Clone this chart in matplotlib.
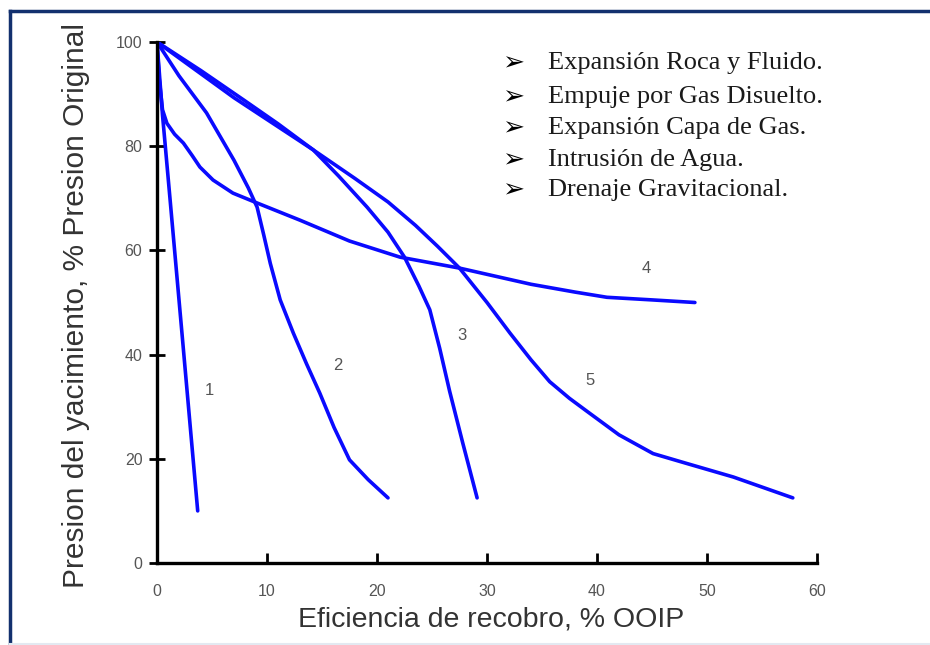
import matplotlib
matplotlib.use("Agg")
import matplotlib.pyplot as plt
from matplotlib.lines import Line2D

# data (x: % OOIP recovered, y: % of original pressure)
c1_x = [0, 0.5, 1.2, 2.4, 3.7]
c1_y = [100, 86, 69.5, 41, 10]

c2_x = [0, 2, 4.5, 7, 8.3, 9.1, 9.7, 10.3, 11.2, 12.4, 13.6, 14.8, 16.1, 17.5, 19.2, 21]
c2_y = [100, 93.5, 86.4, 77.3, 72, 68.3, 63, 57.5, 50.5, 44.1, 38.2, 32.6, 26, 19.8, 16, 12.5]

c3_x = [0, 4, 8, 11, 14.2, 16.5, 19.1, 21, 22.5, 23.8, 24.8, 25.7, 26.6, 27.8, 29.1]
c3_y = [100, 94.5, 88.7, 84.3, 79.3, 74.3, 68.3, 63.5, 58.7, 53.2, 48.6, 41.2, 33, 23, 12.5]

c4_x = [0, 0.2, 0.5, 0.9, 1.6, 2.4, 3.2, 3.9, 5.1, 6.9, 9.1, 13, 17.5, 22.1, 27.5,
        34, 38, 40.9, 45, 48.9]
c4_y = [100, 93, 87, 84.4, 82.3, 80.6, 78.2, 76, 73.5, 71, 69.1, 65.8, 61.8, 58.7, 56.6,
        53.5, 52, 51, 50.5, 50]

c5_x = [0, 7, 14.2, 18, 21, 23.5, 25.5, 27.5, 30, 32.1, 34, 35.7, 37.5, 39.1, 42, 45.1,
        48, 52.4, 57.8]
c5_y = [100, 89.3, 79.3, 73.8, 69.3, 64.8, 60.8, 56.6, 50, 44.1, 39, 34.8, 31.6, 29.1,
        24.6, 21, 19.2, 16.5, 12.5]

curve_ids = ["1", "2", "3", "4", "5"]
id_x = [4.8, 16.4, 27.7, 44.5, 39.4]
id_y = [33.2, 38, 43.6, 56.6, 35.1]

mechanisms = [
    "Expansión Roca y Fluido.",
    "Empuje por Gas Disuelto.",
    "Expansión Capa de Gas.",
    "Intrusión de Agua.",
    "Drenaje Gravitacional.",
]

xticks = [0, 10, 20, 30, 40, 50, 60]
yticks = [0, 20, 40, 60, 80, 100]

W, H = 930, 645
fig = plt.figure(figsize=(W / 100, H / 100), dpi=100)
ax = fig.add_axes([157 / W, (H - 563) / H, 660 / W, 521 / H])

blue = "#0a0aff"
for xs, ys in [(c1_x, c1_y), (c2_x, c2_y), (c3_x, c3_y), (c4_x, c4_y), (c5_x, c5_y)]:
    ax.plot(xs, ys, color=blue, lw=2.6, solid_capstyle="round", solid_joinstyle="round")

for t, x, y in zip(curve_ids, id_x, id_y):
    ax.text(x, y, t, fontsize=12, color="#555555", ha="center", va="center",
            family="Liberation Sans")

ax.set_xlim(0, 60)
ax.set_ylim(0, 100)
ax.set_xticks(xticks)
ax.set_yticks(yticks)
for s in ["top", "right"]:
    ax.spines[s].set_visible(False)
for s in ["left", "bottom"]:
    ax.spines[s].set_linewidth(2.4)
    ax.spines[s].set_color("black")
ax.tick_params(axis="x", direction="in", length=7, width=2, pad=15, labelsize=11.5,
               labelcolor="#555555")
ax.tick_params(axis="y", direction="inout", length=11, width=2, pad=5, labelsize=11.5,
               labelcolor="#555555")
for lab in ax.get_xticklabels() + ax.get_yticklabels():
    lab.set_family("Liberation Sans")

ax.set_xlabel("Eficiencia de recobro, % OOIP", fontsize=20.5, color="#333333",
              family="Liberation Sans")
ax.set_ylabel("Presion del yacimiento, % Presion Original", fontsize=21.5, color="#333333",
              family="Liberation Sans")
ax.xaxis.set_label_coords((491 - 157) / 660, (563 - 606) / 521)
ax.yaxis.set_label_coords((90 - 157) / 660, (563 - 305) / 521)

# list of drive mechanisms
rows_y = [63, 97, 128, 160, 190]
for name, y in zip(mechanisms, rows_y):
    fig.text(502 / W, 1 - y / H, "\u27a2", fontsize=19, color="black",
             va="center", ha="left", family="DejaVu Sans")
    fig.text(548 / W, 1 - y / H, name, fontsize=19, color="#1a1a1a",
             va="center", ha="left", family="Liberation Serif")

# slide frame
fig.add_artist(Line2D([10 / W, 10 / W], [0, 1 - 11 / H], color="#12306e", lw=2.5))
fig.add_artist(Line2D([10 / W, 1], [1 - 11 / H, 1 - 11 / H], color="#12306e", lw=2.5))
fig.add_artist(Line2D([10 / W, 1], [1.5 / H, 1.5 / H], color="#e3e9f1", lw=1.5))

fig.savefig("out.png", dpi=100)
